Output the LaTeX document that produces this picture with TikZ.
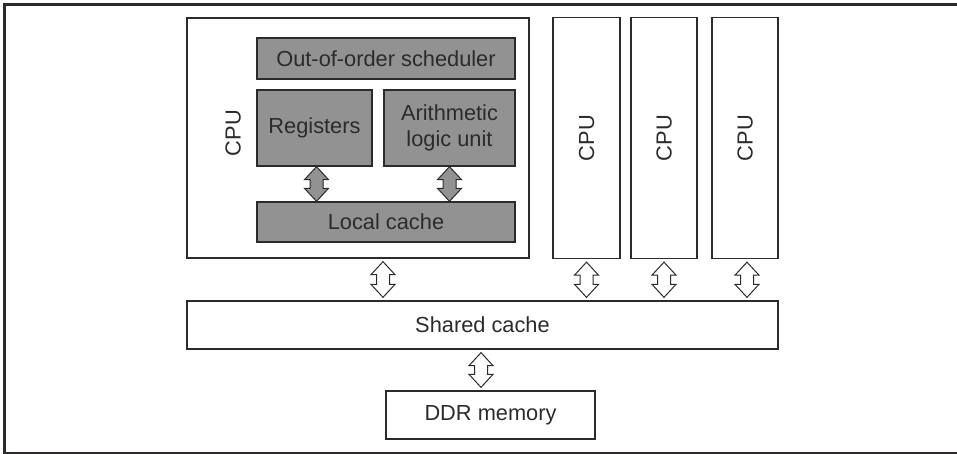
\documentclass[tikz,border=0pt]{standalone}
\usepackage{fontspec}
\setmainfont{Liberation Sans}
\usepackage{tikz}
\usetikzlibrary{calc}

\definecolor{unitgrey}{RGB}{146,146,146}
\definecolor{inkline}{RGB}{45,42,43}

\tikzset{
	label text/.style={inner sep=0pt, text=inkline, font=\fontsize{21.8}{26}\selectfont},
	box/.style={label text, draw=inkline, line width=1.3pt},
	unit/.style={box, fill=unitgrey},
	busfill/.style={draw=inkline, line width=1pt, line join=miter}
}

% block arrow with two heads, from #2 (top) down to #3 (bottom)
\newcommand{\busarrow}[3][white]{%
	\filldraw[busfill, fill=#1] let \p1=(#2), \p2=(#3) in
		(\x1,\y1) -- (\x1+12pt,\y1-13pt) -- (\x1+6.5pt,\y1-13pt)
		-- (\x1+6.5pt,\y2+13pt) -- (\x1+12pt,\y2+13pt) -- (\x1,\y2)
		-- (\x1-12pt,\y2+13pt) -- (\x1-6.5pt,\y2+13pt)
		-- (\x1-6.5pt,\y1-13pt) -- (\x1-12pt,\y1-13pt) -- cycle;}

\begin{document}
\begin{tikzpicture}[x=1pt, y=-1pt]
	\useasboundingbox (0,0) rectangle (957,454);
	\draw[color=inkline, line width=2.6pt] (4.7,470) -- (4.7,4.7) -- (975,4.7);
	\draw[color=inkline, line width=2.6pt] (4.7,452.8) -- (975,452.8);
%the main core
	\node[box, minimum width=342, minimum height=240] (cpu) at (358,138) {};
	\node[label text, rotate=90] (cpulabel) at (233,133) {CPU};
	\node[unit, minimum width=258, minimum height=41] (sched) at (386,58.5) {Out-of-order scheduler};
	\node[unit, minimum width=115, minimum height=76] (reg) at (314.5,128) {Registers};
	\node[unit, minimum width=131, minimum height=76, align=center] (alu) at (449.5,128) {Arithmetic\\logic unit};
	\node[unit, minimum width=258, minimum height=40] (lc) at (386,222) {Local cache};
%the other cores
	\node[box, minimum width=67, minimum height=241] (cpub) at (586.5,138) {};
	\node[label text, rotate=90] at (cpub) {CPU};
	\node[box, minimum width=66, minimum height=241] (cpuc) at (664,138) {};
	\node[label text, rotate=90] at (cpuc) {CPU};
	\node[box, minimum width=66, minimum height=241] (cpud) at (745,138) {};
	\node[label text, rotate=90] at (cpud) {CPU};
%memory
	\node[box, minimum width=591, minimum height=48] (shared) at (482.5,325) {Shared cache};
	\node[box, minimum width=209, minimum height=48] (ddr) at (490.5,415) {DDR memory};
%arrows
	\busarrow[unitgrey]{[xshift=2pt]reg.south}{lc.north}
	\busarrow[unitgrey]{alu.south}{lc.north}
	\busarrow{[xshift=25pt, yshift=-3pt]cpu.south}{[yshift=3pt]shared.north}
	\busarrow{[yshift=-3pt]cpub.south}{[yshift=3pt]shared.north}
	\busarrow{[yshift=-3pt]cpuc.south}{[yshift=3pt]shared.north}
	\busarrow{[xshift=2pt, yshift=-3pt]cpud.south}{[yshift=3pt]shared.north}
	\busarrow{[xshift=-1.5pt, yshift=-3pt]shared.south}{[yshift=3pt]ddr.north}
\end{tikzpicture}
\end{document}
